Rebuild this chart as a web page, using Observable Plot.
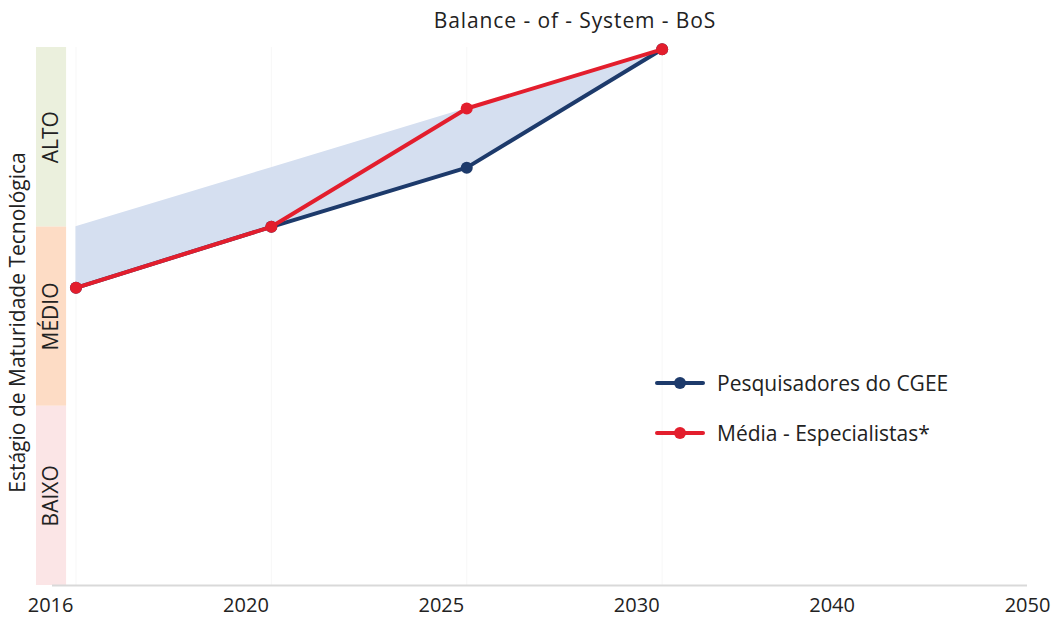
<!DOCTYPE html>
<html>
<head>
<meta charset="utf-8">
<script src="https://cdn.jsdelivr.net/npm/d3@7"></script>
<script src="https://cdn.jsdelivr.net/npm/@observablehq/plot@0.6"></script>
<style>
  body { margin: 0; background: #fff; font-family: "Open Sans", sans-serif; color: #222; }
  #wrap { position: relative; width: 1054px; height: 618px; }
  #title { height: 40px; position: relative; }
  #title span { position: absolute; left: 575px; top: 6px; transform: translateX(-50%); font-size: 21px; letter-spacing: 0.9px; white-space: nowrap; color: #222; }
  #legend { position: absolute; left: 655px; top: 367px; font-size: 21px; color: #222; }
  .item { display: flex; align-items: center; height: 32px; margin-bottom: 18px; white-space: nowrap; }
  .item svg { margin-right: 12px; }
</style>
</head>
<body>
<div id="wrap">
  <div id="title"><span>Balance - of - System - BoS</span></div>
  <div id="chart"></div>
  <div id="legend"></div>
</div>
<script>
// Tick labels of the (evenly spaced) x axis
const tickLabels = ["2016", "2020", "2025", "2030", "2040", "2050"];
// Data positions on the category axis (index units)
const xPos = [0.13, 1.13, 2.13, 3.13];
// Series values (maturity stage: 0 = bottom of BAIXO, 3 = top of ALTO)
const pesquisadores = [1.66, 2.0, 2.33, 2.99];
const especialistas = [1.66, 2.0, 2.66, 2.99];
const faixaSuperior = [2.0, 2.33, 2.66, 2.99];
// Maturity bands
const bandNames = ["BAIXO", "MÉDIO", "ALTO"];
const bandLow = [0, 1, 2];
const bandHigh = [1, 2, 3];
const bandColors = ["#fbe5e6", "#fddcc5", "#ebf0dd"];
const yTitle = "Estágio de Maturidade Tecnológica";
const seriesNames = ["Pesquisadores do CGEE", "Média - Especialistas*"];
const seriesColors = ["#1d3a6b", "#e31e2d"];

const xMin = -0.072, stripRight = 0.082;
const rows = xPos.map((x, i) => ({x, p: pesquisadores[i], e: especialistas[i], u: faixaSuperior[i]}));
const bands = bandNames.map((n, i) => ({n, lo: bandLow[i], hi: bandHigh[i], c: bandColors[i], mid: (bandLow[i] + bandHigh[i]) / 2}));

const chart = Plot.plot({
  width: 1054,
  height: 578,
  marginLeft: 36,
  marginRight: 27,
  marginTop: 7,
  marginBottom: 33,
  style: {fontFamily: "Open Sans, sans-serif", overflow: "visible"},
  x: {domain: [xMin, 5], axis: null},
  y: {domain: [0, 3], axis: null},
  marks: [
    Plot.ruleX(xPos, {y1: 0, y2: 3, stroke: "#f7f7f7", strokeWidth: 1}),
    Plot.rect(bands, {x1: xMin, x2: stripRight, y1: "lo", y2: "hi", fill: "c"}),
    Plot.text(bands, {x: (xMin + stripRight) / 2, y: "mid", text: "n", rotate: -90, fontSize: 21, fill: "#222", letterSpacing: "2px"}),
    Plot.text([yTitle], {frameAnchor: "left", textAnchor: "middle", dx: -18, dy: 6, rotate: -90, fontSize: 21, fill: "#222", letterSpacing: "1px"}),
    Plot.ruleY([0], {x1: 0.01, x2: 5, stroke: "#d9d9d9", strokeWidth: 2}),
    Plot.axisX({ticks: d3.range(tickLabels.length), tickFormat: i => tickLabels[i], tickSize: 0, tickPadding: 12, fontSize: 20, color: "#222", label: null}),
    Plot.areaY(rows, {x: "x", y1: "p", y2: "u", fill: "#d5dff0", curve: "linear"}),
    Plot.line(rows, {x: "x", y: "p", stroke: seriesColors[0], strokeWidth: 4}),
    Plot.dot(rows, {x: "x", y: "p", r: 6, fill: seriesColors[0]}),
    Plot.line(rows, {x: "x", y: "e", stroke: seriesColors[1], strokeWidth: 4}),
    Plot.dot(rows, {x: "x", y: "e", r: 6, fill: seriesColors[1]})
  ]
});
document.getElementById("chart").appendChild(chart);

const legend = document.getElementById("legend");
seriesNames.forEach((n, i) => {
  const d = document.createElement("div");
  d.className = "item";
  d.innerHTML = `<svg width="50" height="14"><line x1="2" x2="48" y1="7" y2="7" stroke="${seriesColors[i]}" stroke-width="4" stroke-linecap="round"/><circle cx="25" cy="7" r="6" fill="${seriesColors[i]}"/></svg><span>${n}</span>`;
  legend.appendChild(d);
});
</script>
</body>
</html>
